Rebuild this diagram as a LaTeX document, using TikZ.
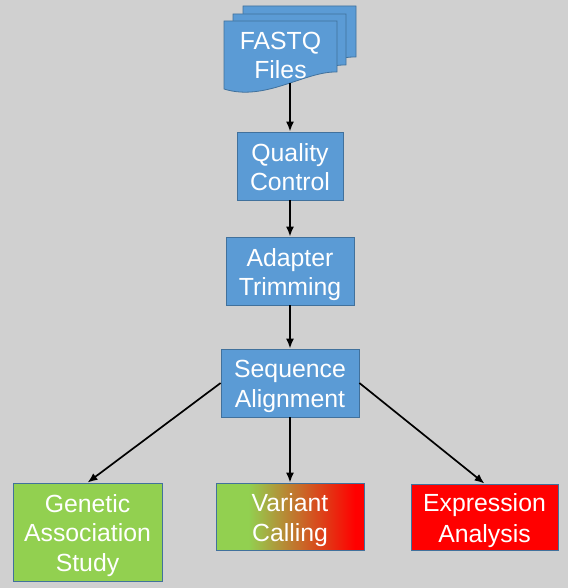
\documentclass[tikz,border=0pt]{standalone}
\usepackage{fontspec}
\setmainfont{Liberation Sans}
\usetikzlibrary{arrows.meta}
\definecolor{bggray}{HTML}{D0D0D0}
\definecolor{boxblue}{HTML}{5B9BD5}
\definecolor{edgeblue}{HTML}{41719C}
\definecolor{vgreen}{HTML}{92D050}
\definecolor{vred}{HTML}{FF0000}
\pgfdeclarehorizontalshading{greenred}{100bp}{color(0bp)=(vgreen); color(36bp)=(vgreen); color(72bp)=(vred); color(100bp)=(vred)}
\newcommand\toprow[1]{\raisebox{0pt}[\dimexpr\height+2pt\relax]{#1}}
\newcommand\lastrow[1]{\raisebox{0pt}[\height][0pt]{#1}}
\begin{document}
\begin{tikzpicture}[x=1pt,y=-1pt,
  box/.style={draw=edgeblue,fill=boxblue,text=white,align=center,inner sep=0pt,line width=0.8pt,font=\fontsize{24.8}{29.5}\selectfont},
  page/.style={draw=edgeblue,fill=boxblue,line width=0.8pt},
  flow/.style={-{Latex[length=10pt,width=8pt]},line width=1.7pt}]
\useasboundingbox (0,0) rectangle (568,588);
\fill[bggray] (0,0) rectangle (568,588);
% stacked files
\foreach \dx/\dy in {19/-15,9/-7,0/0}
  \draw[page,shift={(\dx,\dy)}] (224,21) -- (337,21) -- (337,72) .. controls (305,71) and (265,102) .. (224,89) -- cycle;
\node[box,draw=none,fill=none] (fastq) at (280.5,54.5) {\toprow{FASTQ}\\\lastrow{Files}};
\coordinate (fastq-out) at (290,83);
% pipeline
\node[box,minimum width=106pt,minimum height=68pt] (qc) at (290,166) {\toprow{Quality}\\\lastrow{Control}};
\node[box,minimum width=128pt,minimum height=68pt] (trim) at (290,271) {\toprow{Adapter}\\\lastrow{Trimming}};
\node[box,minimum width=138pt,minimum height=68pt] (align) at (290,383) {\toprow{Sequence}\\\lastrow{Alignment}};
\node[box,fill=vgreen,minimum width=149pt,minimum height=98pt] (gwas) at (87.5,532) {\toprow{Genetic}\\Association\\\lastrow{Study}};
\node[box,shading=greenred,minimum width=148pt,minimum height=67pt,font=\fontsize{24.8}{30.5}\selectfont] (variant) at (290,516.5) {\toprow{Variant}\\\lastrow{Calling}};
\node[box,fill=vred,minimum width=147pt,minimum height=66pt,font=\fontsize{24.8}{30.5}\selectfont] (expr) at (484.5,517) {\toprow{Expression}\\\lastrow{Analysis}};
\draw[flow] (fastq-out) -- (qc);
\draw[flow] (qc) -- (trim);
\draw[flow] (trim) -- (align);
\draw[flow] (align.west) -- (gwas.north);
\draw[flow] (align) -- (variant);
\draw[flow] (align.east) -- (expr.north);
\end{tikzpicture}
\end{document}
